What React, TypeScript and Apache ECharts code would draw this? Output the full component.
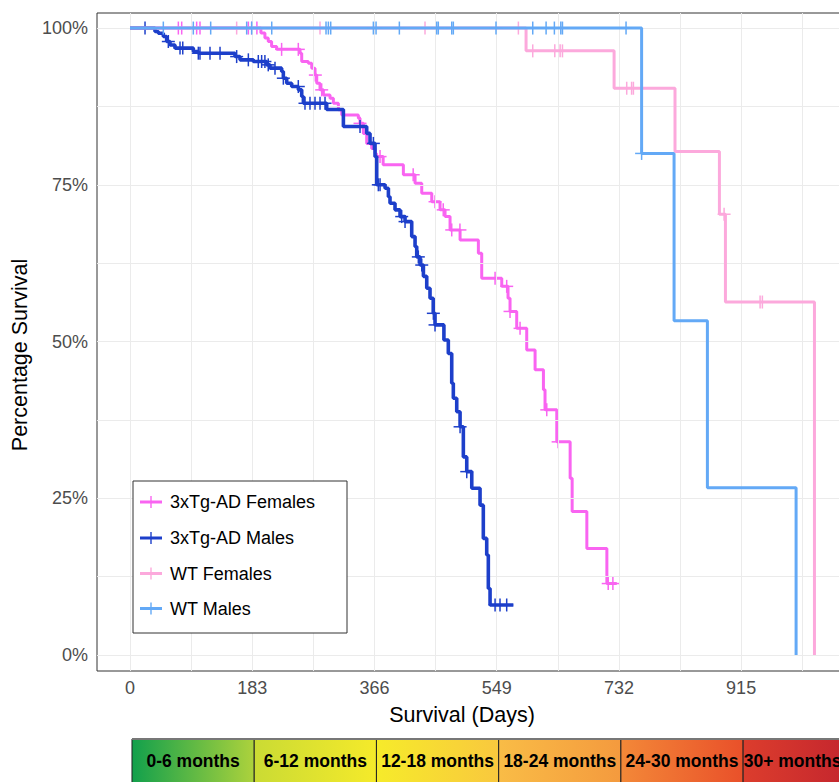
import React, { useEffect, useRef } from 'react';
import * as echarts from 'echarts';

// ---- axis ticks ----
const xTicks = [0, 183, 366, 549, 732, 915];
const xMinor = [91.5, 274.5, 457.5, 640.5, 823.5, 1006.5];
const yTicks = [0, 25, 50, 75, 100];
const yMinor = [12.5, 37.5, 62.5, 87.5];

// ---- series ----
const seriesNames = ['3xTg-AD Females', '3xTg-AD Males', 'WT Females', 'WT Males'];
const seriesColors = ['#F964F1', '#1D3FCA', '#FCA9DC', '#63A9F6'];

const tgFemaleDays = [0, 196, 202, 207, 212, 219.6, 254.6, 257.1, 267, 272.1, 277, 279.6, 284.5, 289.5, 299.5, 304.5, 312, 317, 341.9, 344.4, 349.4, 354.4, 361.9, 366.9, 369, 379, 409.3, 426.8, 436.8, 451.8, 464.2, 471.7, 479.2, 494.2, 521.6, 526.6, 556.6, 566, 569, 579, 594, 606.5, 619, 621.4, 639, 659, 662, 684, 714, 728.8];
const tgFemaleSurv = [100, 99.2, 98.4, 97.85, 97.05, 96.6, 96.0, 94.66, 94.4, 93.6, 92.5, 91.2, 90.14, 89.34, 88.8, 88.0, 86.95, 86.15, 85.6, 84.8, 83.2, 81.6, 80.8, 80.0, 79.5, 78.2, 76.6, 75.25, 73.66, 72.3, 71.0, 69.93, 67.8, 66.2, 64.1, 60.1, 58.8, 56.9, 54.8, 52.1, 48.66, 45.5, 42.3, 39.1, 34.0, 28.2, 22.9, 17.0, 11.4, 11.4];
const tgFemaleCensor = [72.4, 77.4, 99.8, 104.8, 177.2, 182.2, 190, 227, 252, 277.5, 287, 344.4, 374.4, 424, 456.7, 469, 481.7, 494, 546.6, 564, 569, 584, 624, 641, 716, 723];

const tgMaleDays = [0, 37.4, 42.4, 49.9, 54.9, 59.9, 67.4, 94.8, 102.3, 157.2, 164.7, 184.7, 204.7, 209.6, 227.1, 229.6, 234.6, 242.1, 252.1, 257.1, 259.6, 294.5, 319.5, 354.4, 359.4, 366.9, 369.4, 381.9, 386.9, 389.3, 396.8, 404.3, 411.8, 421.8, 426.8, 429.3, 434.3, 439.3, 444.3, 449.2, 454, 456.7, 470, 476.6, 481.7, 484.1, 489.2, 494.2, 499.1, 504.2, 511.7, 524.1, 529.0, 534.1, 536.5, 539.1, 574];
const tgMaleSurv = [100, 99.45, 99.18, 98.65, 97.85, 97.3, 96.8, 96.26, 95.99, 95.45, 94.93, 94.66, 94.13, 93.6, 93.06, 92.0, 91.2, 90.67, 90.14, 89.07, 88.0, 87.0, 84.3, 83.2, 81.6, 79.5, 75.0, 74.45, 73.1, 72.06, 71.0, 69.93, 69.13, 66.74, 65.14, 63.5, 62.2, 60.4, 58.5, 56.9, 54.5, 52.65, 50.25, 48.1, 43.35, 40.95, 38.8, 36.4, 31.6, 29.25, 26.6, 23.9, 18.6, 15.95, 10.6, 7.98, 7.98];
const tgMaleCensor = [22.5, 57.4, 74.9, 79, 102.3, 104.8, 119.8, 134.8, 159.7, 177.2, 192.1, 197.1, 202, 207, 217.1, 229.6, 252, 262, 269.5, 277, 284.5, 292, 344.4, 364.4, 371.8, 374.4, 406.8, 411.8, 431.7, 436.8, 454.2, 456.7, 494.2, 504.2, 546.6, 554, 564];

const wtFemaleDays = [0, 593, 724.8, 816, 882.5, 891.5, 1024.8];
const wtFemaleSurv = [100, 96.36, 90.4, 80.3, 70.3, 56.3, 0];
const wtFemaleCensor = [159.7, 284.5, 441.7, 581.5, 603, 636, 644, 647.5, 743.7, 751, 753.7, 889.5, 943.4, 946.8];

const wtMaleDays = [0, 766, 814.6, 864.5, 997.3];
const wtMaleSurv = [100, 80, 53.33, 26.67, 0];
const wtMaleCensor = [49.9, 94.8, 120.8, 174.7, 182.2, 212.2, 293.5, 297, 300.5, 364.4, 368.4, 403.3, 459.2, 461.6, 481.7, 484.1, 548, 603, 623, 635.4, 645, 647.5, 742.7, 766];

// ---- age bands under the axis ----
const ageBands = ['0-6 months', '6-12 months', '12-18 months', '18-24 months', '24-30 months', '30+ months'];
const ageBandStart = [0, 183, 366, 549, 732, 915];
const ageBandColors = [
  ['#12A04C', '#ADD23C'],
  ['#CADB34', '#F5EA2A'],
  ['#F6EB2A', '#F9C83E'],
  ['#F9BC46', '#F49A3E'],
  ['#F38838', '#E9502A'],
  ['#DC3D2D', '#BC1E2E'],
];

const FONT = '"Liberation Sans", Arial, Helvetica, sans-serif';

function survAt(days: number[], surv: number[], t: number) {
  let s = surv[0];
  for (let i = 0; i < days.length; i++) if (days[i] <= t) s = surv[i];
  return s;
}

const groups = [
  { days: tgFemaleDays, surv: tgFemaleSurv, censor: tgFemaleCensor },
  { days: tgMaleDays, surv: tgMaleSurv, censor: tgMaleCensor },
  { days: wtFemaleDays, surv: wtFemaleSurv, censor: wtFemaleCensor },
  { days: wtMaleDays, surv: wtMaleSurv, censor: wtMaleCensor },
];
const lineWidths = [3, 3.6, 3, 3];

// layout
const GRID_LEFT = 97, GRID_TOP = 13, GRID_W = 755, GRID_H = 658;
const X_MIN = -49.4, X_MAX = 1081;
const Y_MIN = -2.55, Y_MAX = 102.4;
const px = (d: number) => GRID_LEFT + ((d - X_MIN) / (X_MAX - X_MIN)) * GRID_W;

export default function App() {
  const ref = useRef<HTMLDivElement>(null);
  useEffect(() => {
    if (!ref.current) return;
    const chart = echarts.init(ref.current, undefined, { renderer: 'svg' });

    const series: any[] = [];
    series.push({
      type: 'line',
      name: 'grid',
      data: [[0, 100]],
      showSymbol: false,
      lineStyle: { opacity: 0 },
      silent: true,
      z: 1,
      markLine: {
        silent: true,
        symbol: 'none',
        animation: false,
        label: { show: false },
        lineStyle: { color: '#EBEBEB', width: 1, type: 'solid' },
        data: [
          ...[...xTicks, ...xMinor].map((v) => ({ xAxis: v })),
          ...[...yTicks, ...yMinor].map((v) => ({ yAxis: v })),
        ],
      },
    });

    groups.forEach((g, i) => {
      series.push({
        type: 'line',
        name: seriesNames[i],
        step: 'end',
        data: g.days.map((d, k) => [d, g.surv[k]]),
        showSymbol: false,
        lineStyle: { color: seriesColors[i], width: lineWidths[i] },
        itemStyle: { color: seriesColors[i] },
        z: 3 + i * 2,
      });
      series.push({
        type: 'custom',
        name: seriesNames[i] + ' censored',
        data: g.censor.map((t) => [t, survAt(g.days, g.surv, t)]),
        z: 4 + i * 2,
        renderItem: (_p: any, api: any) => {
          const p = api.coord([api.value(0), api.value(1)]);
          const st = { stroke: seriesColors[i], lineWidth: 1.5 };
          return {
            type: 'group',
            children: [
              { type: 'line', shape: { x1: p[0], y1: p[1] - 6.5, x2: p[0], y2: p[1] + 6.5 }, style: st },
              { type: 'line', shape: { x1: p[0] - 6.5, y1: p[1], x2: p[0] + 6.5, y2: p[1] }, style: st },
            ],
          };
        },
      });
    });

    const graphic: any[] = [];
    // axis titles
    graphic.push({
      type: 'text', x: 462, y: 715, z: 100,
      style: { text: 'Survival (Days)', fill: '#000', font: `21.5px ${FONT}`, align: 'center', verticalAlign: 'middle', textAlign: 'center', textVerticalAlign: 'middle' },
    });
    graphic.push({
      type: 'text', x: 20, y: 355, rotation: Math.PI / 2, z: 100,
      style: { text: 'Percentage Survival', fill: '#000', font: `21.5px ${FONT}`, align: 'center', verticalAlign: 'middle', textAlign: 'center', textVerticalAlign: 'middle' },
    });

    // legend
    graphic.push({
      type: 'rect', z: 100,
      shape: { x: 133, y: 481, width: 214, height: 152 },
      style: { fill: '#fff', stroke: '#333', lineWidth: 1 },
    });
    const legY = [502, 538, 573.5, 608.5];
    seriesNames.forEach((n, i) => {
      const y = legY[i];
      graphic.push({ type: 'line', z: 101, shape: { x1: 140, y1: y, x2: 162, y2: y }, style: { stroke: seriesColors[i], lineWidth: 3 } });
      graphic.push({ type: 'line', z: 101, shape: { x1: 151, y1: y - 6, x2: 151, y2: y + 6 }, style: { stroke: seriesColors[i], lineWidth: 1.4 } });
      graphic.push({
        type: 'text', z: 101, x: 170, y,
        style: { text: n, fill: '#000', font: `18px ${FONT}`, align: 'left', verticalAlign: 'middle', textAlign: 'left', textVerticalAlign: 'middle' },
      });
    });

    // age band bar
    const barTop = 739;
    ageBands.forEach((label, i) => {
      const last = i === ageBands.length - 1;
      const x0 = px(ageBandStart[i]) + 2;
      const x1 = !last ? px(ageBandStart[i + 1]) + 2 : x0 + 99;
      graphic.push({
        type: 'rect', z: 100,
        shape: { x: x0, y: barTop, width: !last ? x1 - x0 : 140, height: 60 },
        style: {
          fill: new echarts.graphic.LinearGradient(0, 0, 1, 0, [
            { offset: 0, color: ageBandColors[i][0] },
            { offset: 1, color: ageBandColors[i][1] },
          ]),
          stroke: '#222', lineWidth: 1,
        },
      });
      graphic.push({
        type: 'text', z: 101, x: (x0 + x1) / 2, y: 761,
        style: { text: label, fill: '#000', font: `bold 17.5px ${FONT}`, align: 'center', verticalAlign: 'middle', textAlign: 'center', textVerticalAlign: 'middle' },
      });
    });
    graphic.push({ type: 'line', z: 102, shape: { x1: px(0) + 2, y1: barTop, x2: 880, y2: barTop }, style: { stroke: '#777', lineWidth: 2 } });

    chart.setOption({
      animation: false,
      backgroundColor: '#fff',
      grid: { left: GRID_LEFT, top: GRID_TOP, width: GRID_W, height: GRID_H, show: true, borderColor: '#333', borderWidth: 1, backgroundColor: 'transparent' },
      xAxis: {
        type: 'value', min: X_MIN, max: X_MAX,
        axisLine: { show: false },
        splitLine: { show: false },
        axisTick: { show: true, customValues: xTicks, length: 5, lineStyle: { color: '#333' } },
        axisLabel: { customValues: xTicks, margin: 8, color: '#4D4D4D', fontSize: 18, fontFamily: FONT },
      },
      yAxis: {
        type: 'value', min: Y_MIN, max: Y_MAX,
        axisLine: { show: false },
        splitLine: { show: false },
        axisTick: { show: true, customValues: yTicks, length: 5, lineStyle: { color: '#333' } },
        axisLabel: { customValues: yTicks, margin: 9, color: '#4D4D4D', fontSize: 18, fontFamily: FONT, formatter: (v: number) => `${v}%` },
      },
      series,
      graphic,
    });

    return () => chart.dispose();
  }, []);

  return (
    <div style={{ position: 'absolute', left: 0, top: 0, width: 839, height: 782, overflow: 'hidden' }}>
      <div ref={ref} style={{ width: 880, height: 782 }} />
    </div>
  );
}
